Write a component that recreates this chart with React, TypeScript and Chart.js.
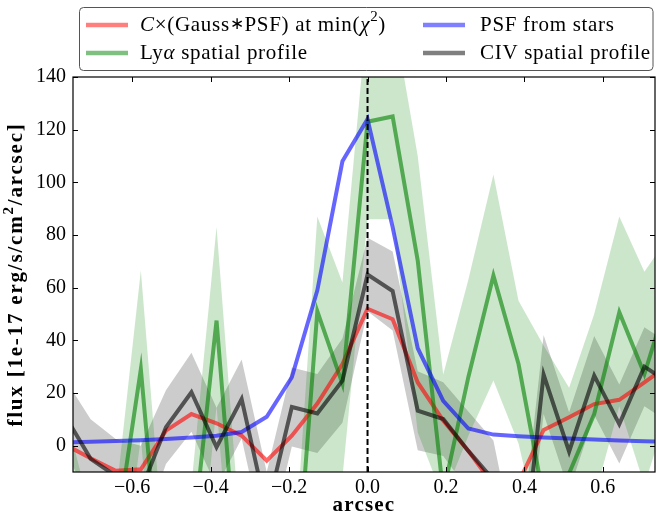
import React, { useEffect, useRef } from "react";
import { Chart, registerables } from "chart.js";

Chart.register(...registerables);

// ---- data ----
const ARCSEC = [
  -0.770, -0.706, -0.642, -0.578, -0.514, -0.449, -0.385, -0.321, -0.257, -0.193, -0.128, -0.064,
  0.0, 0.064, 0.128, 0.193, 0.257, 0.321, 0.385, 0.449, 0.514, 0.578, 0.642, 0.706, 0.770,
];
const MODEL = [
  0.3, -4.8, -9.5, -9.0, 5.7, 12, 8.5, 3.8, -5.7, 3.8, 16, 31,
  52, 48, 24, 9.5, -2, -15, -14, 6, 10.8, 15.8, 17.4, 24, 31,
];
const PSF = [
  1.2, 1.5, 1.8, 2.1, 2.5, 3.1, 3.8, 5.2, 11, 26, 59, 108,
  124, 83, 37, 17, 6.5, 4.2, 3.6, 3.1, 2.7, 2.3, 2.0, 1.7, 1.4,
];
const LYA = [
  -25, -45, -35, 29, -78, -40, 47.5, -70, -60, -76, 51, 23.5,
  123, 125, 70.3, -18, 26, 64.6, 31, -20, -10.5, 12, 50.7, 27.2, 58,
];
const LYA_HI = [
  12, -25, -20, 66.5, -50, -15, 83, -40, -60, -56, 87, 62,
  165, 165, 110, 27, 63, 103, 55, 38, 22, 50, 87, 66, 80,
];
const LYA_LO = [
  -50, -60, -70, 3, -110, -80, 15, -100, -100, -100, -15, -12,
  86, 86, 5, -20, 3.7, 24.7, 0.8, -40, -40, -20, 15, -15, 15,
];
const CIV = [
  11, -5, -11.5, -17, 7, 20.3, -0.6, 17.7, -25, 14.7, 12.2, 24.7,
  65, 58.7, 13.3, 10.1, -2, -13, -60, 27, -2.3, 26.6, 8.2, 30, 23.7,
];
const CIV_ERR = [
  14, 15, 14, 17, 14, 15, 15, 15, 15, 15, 15, 16,
  14, 15, 15, 14, 15, 15, 15, 15, 15, 15, 15, 15, 15,
];
const X_TICKS = [-0.6, -0.4, -0.2, 0.0, 0.2, 0.4, 0.6];
const Y_TICKS = [0, 20, 40, 60, 80, 100, 120, 140];
const X_MIN = -0.751;
const X_MAX = 0.733;
const Y_MIN = -10;
const Y_MAX = 140;
const ZERO_X = [0, 0];
const ZERO_Y = [-10, 140];

const X_TITLE = "arcsec";
const Y_TITLE = [
  { t: "flux [1e-17 erg/s/cm" },
  { t: "2", s: "sup" },
  { t: "/arcsec]" },
];
const LEGEND = [
  {
    color: "rgba(255,0,0,0.5)", col: 0, row: 0,
    segs: [{ t: "C", s: "i" }, { t: "\u00d7(Gauss" }, { t: "\u2217", s: "sm" }, { t: "PSF) at min(" }, { t: "\u03c7", s: "i" }, { t: "2", s: "sup" }, { t: ")" }],
  },
  { color: "rgba(0,128,0,0.5)", col: 0, row: 1, segs: [{ t: "Ly" }, { t: "\u03b1", s: "i" }, { t: " spatial profile" }] },
  { color: "rgba(0,0,255,0.5)", col: 1, row: 0, segs: [{ t: "PSF from stars" }] },
  { color: "rgba(0,0,0,0.5)", col: 1, row: 1, segs: [{ t: "CIV spatial profile" }] },
];

const SERIF = '"Liberation Serif", "Times New Roman", Times, serif';

const pts = (ys: number[]) => ARCSEC.map((x, i) => ({ x, y: ys[i] }));

type Seg = { t: string; s?: string };

function segFont(s: string | undefined, size: number, bold: boolean) {
  const w = bold ? "bold " : "";
  if (s === "i") return `italic ${w}${size}px ${SERIF}`;
  if (s === "sup") return `${w}${Math.round(size * 0.7)}px ${SERIF}`;
  if (s === "sm") return `${w}${Math.round(size * 0.8)}px ${SERIF}`;
  return `${w}${size}px ${SERIF}`;
}

function richWidth(ctx: CanvasRenderingContext2D, segs: Seg[], size: number, bold: boolean) {
  let w = 0;
  for (const sg of segs) {
    ctx.font = segFont(sg.s, size, bold);
    w += ctx.measureText(sg.t).width;
  }
  return w;
}

function drawRich(ctx: CanvasRenderingContext2D, segs: Seg[], x: number, y: number, size: number, bold: boolean) {
  let cx = x;
  for (const sg of segs) {
    ctx.font = segFont(sg.s, size, bold);
    const dy = sg.s === "sup" ? -size * 0.38 : 0;
    ctx.fillText(sg.t, cx, y + dy);
    cx += ctx.measureText(sg.t).width;
  }
}

const decor = {
  id: "decor",
  afterDatasetsDraw(chart: any) {
    const { ctx, chartArea: a, scales } = chart;
    const xs = scales.x;
    const ys = scales.y;
    ctx.save();
    ctx.strokeStyle = "#000";
    ctx.lineWidth = 1;
    ctx.beginPath();
    for (const v of X_TICKS) {
      const px = Math.round(xs.getPixelForValue(v)) + 0.5;
      ctx.moveTo(px, a.bottom);
      ctx.lineTo(px, a.bottom - 5);
      ctx.moveTo(px, a.top);
      ctx.lineTo(px, a.top + 5);
    }
    for (const v of Y_TICKS) {
      const py = Math.round(ys.getPixelForValue(v)) + 0.5;
      ctx.moveTo(a.left, py);
      ctx.lineTo(a.left + 5, py);
      ctx.moveTo(a.right, py);
      ctx.lineTo(a.right - 5, py);
    }
    ctx.stroke();
    ctx.lineWidth = 1.2;
    ctx.strokeRect(a.left, a.top, a.right - a.left, a.bottom - a.top);
    ctx.restore();
  },
  afterDraw(chart: any) {
    const { ctx, chartArea: a } = chart;
    ctx.save();
    ctx.fillStyle = "#000";
    ctx.textBaseline = "middle";
    // x title
    (ctx as any).letterSpacing = "1.2px";
    ctx.font = `bold 21px ${SERIF}`;
    const xw = ctx.measureText(X_TITLE).width;
    ctx.fillText(X_TITLE, (a.left + a.right) / 2 - xw / 2, 506);
    // y title
    (ctx as any).letterSpacing = "1.8px";
    const yw = richWidth(ctx, Y_TITLE, 21, true);
    ctx.save();
    ctx.translate(17, (a.top + a.bottom) / 2);
    ctx.rotate(-Math.PI / 2);
    drawRich(ctx, Y_TITLE, -yw / 2, 0, 21, true);
    ctx.restore();

    // legend
    (ctx as any).letterSpacing = "0.7px";
    const bx = 79.5, by = 7.5, bw = 573.5, bh = 63;
    ctx.beginPath();
    (ctx as any).roundRect(bx, by, bw, bh, 4);
    ctx.fillStyle = "rgba(255,255,255,1)";
    ctx.fill();
    ctx.strokeStyle = "#555";
    ctx.lineWidth = 1;
    ctx.stroke();
    const lineX = [86, 423];
    const textX = [140, 480];
    const rowY = [25, 53];
    for (const e of LEGEND) {
      const y = rowY[e.row];
      ctx.strokeStyle = e.color;
      ctx.lineWidth = 4.5;
      ctx.beginPath();
      ctx.moveTo(lineX[e.col], y);
      ctx.lineTo(lineX[e.col] + 42, y);
      ctx.stroke();
      ctx.fillStyle = "#000";
      drawRich(ctx, e.segs, textX[e.col], y, 21, false);
    }
    ctx.restore();
  },
};

export default function App() {
  const ref = useRef<HTMLCanvasElement | null>(null);
  useEffect(() => {
    document.body.style.margin = "0";
    const canvas = ref.current;
    if (!canvas) return;
    const line = (data: any, color: string, extra: any = {}) => ({
      data,
      borderColor: color,
      backgroundColor: color,
      borderWidth: 4,
      pointRadius: 0,
      tension: 0,
      fill: false,
      clip: 0,
      ...extra,
    });
    const chart = new Chart(canvas, {
      type: "line",
      data: {
        datasets: [
          line(ZERO_X.map((x, i) => ({ x, y: ZERO_Y[i] })), "#000", { borderWidth: 2, borderDash: [6, 3] }),
          line(pts(CIV), "rgba(0,0,0,0.6)"),
          line(pts(PSF), "rgba(0,0,255,0.6)"),
          line(pts(LYA), "rgba(0,128,0,0.6)"),
          line(pts(MODEL), "rgba(255,0,0,0.6)"),
          line(pts(LYA_LO), "rgba(0,0,0,0)", { borderWidth: 0 }),
          line(pts(LYA_HI), "rgba(0,0,0,0)", { borderWidth: 0, fill: "-1", backgroundColor: "rgba(0,128,0,0.2)" }),
          line(pts(CIV.map((v, i) => v - CIV_ERR[i])), "rgba(0,0,0,0)", { borderWidth: 0 }),
          line(pts(CIV.map((v, i) => v + CIV_ERR[i])), "rgba(0,0,0,0)", { borderWidth: 0, fill: "-1", backgroundColor: "rgba(0,0,0,0.2)" }),
        ],
      },
      options: {
        animation: false,
        responsive: false,
        events: [],
        layout: { padding: { top: 77, right: 2, left: 0, bottom: 0 } },
        plugins: { legend: { display: false }, tooltip: { enabled: false } },
        scales: {
          x: {
            type: "linear",
            min: X_MIN,
            max: X_MAX,
            grid: { display: false, drawTicks: false },
            border: { display: false },
            afterBuildTicks: (axis: any) => { axis.ticks = X_TICKS.map((v) => ({ value: v })); },
            afterFit: (axis: any) => { axis.height = 48; },
            ticks: {
              autoSkip: false,
              maxRotation: 0,
              padding: 4,
              color: "#000",
              font: { family: SERIF, size: 20 },
              callback: (v: any) => (v < 0 ? "\u2212" : "") + Math.abs(Number(v)).toFixed(1),
            },
          },
          y: {
            type: "linear",
            min: Y_MIN,
            max: Y_MAX,
            grid: { display: false, drawTicks: false },
            border: { display: false },
            afterBuildTicks: (axis: any) => { axis.ticks = Y_TICKS.map((v) => ({ value: v })); },
            afterFit: (axis: any) => { axis.width = 73; },
            ticks: {
              padding: 7,
              color: "#000",
              font: { family: SERIF, size: 20 },
              callback: (v: any) => String(v),
            },
          },
        },
      },
      plugins: [decor],
    } as any);
    return () => { chart.destroy(); };
  }, []);
  return <canvas ref={ref} width={657} height={520} style={{ display: "block" }} />;
}
